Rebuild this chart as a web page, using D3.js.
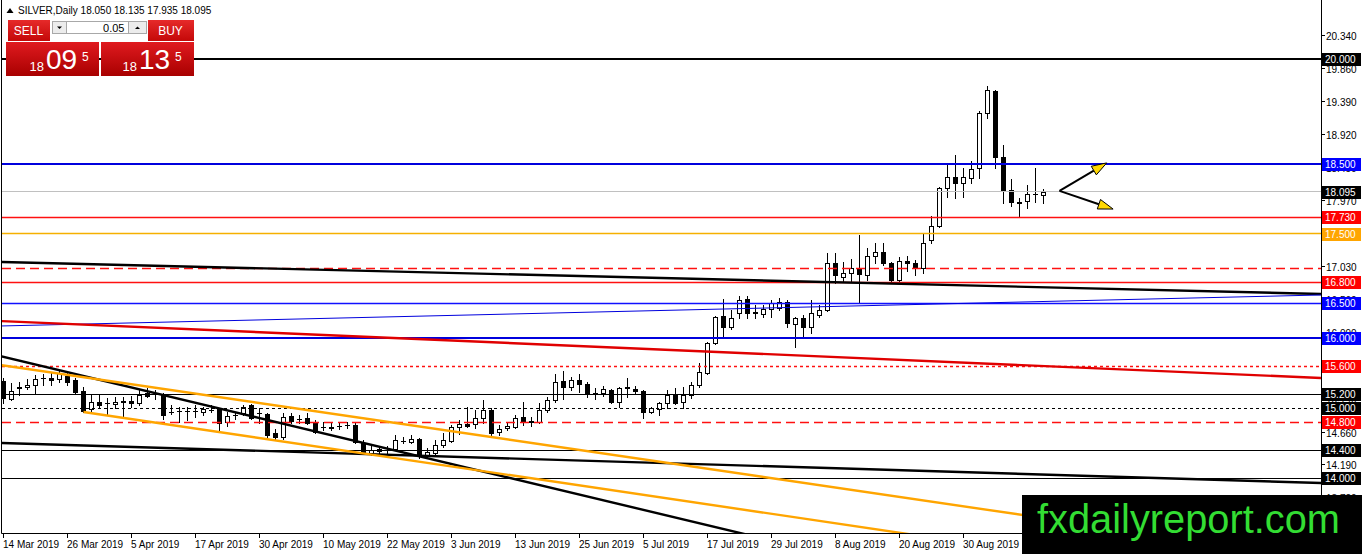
<!DOCTYPE html>
<html>
<head>
<meta charset="utf-8">
<script src="https://cdn.jsdelivr.net/npm/d3@7"></script>
<style>
  body { margin: 0; background: #fff; }
  svg { display: block; font-family: "Liberation Sans", Arial, sans-serif; }
</style>
</head>
<body>
<div id="chart"></div>
<script>
// ---- data ----
const symbol = "SILVER,Daily";
const dateLabels = ["14 Mar 2019", "26 Mar 2019", "5 Apr 2019", "17 Apr 2019", "30 Apr 2019", "10 May 2019",
  "22 May 2019", "3 Jun 2019", "13 Jun 2019", "25 Jun 2019", "5 Jul 2019", "17 Jul 2019", "29 Jul 2019",
  "8 Aug 2019", "20 Aug 2019", "30 Aug 2019"];
const dateBars = [0, 8, 16, 24, 32, 40, 48, 56, 64, 72, 80, 88, 96, 104, 112, 120];

const open = [
  15.39, 15.13, 15.29, 15.31, 15.33, 15.43, 15.43, 15.42, 15.46, 15.41,
  15.25, 14.99, 15.09, 15.08, 15.06, 15.09, 15.11, 15.08, 15.22, 15.21,
  15.19, 14.95, 14.96, 14.96, 14.96, 14.95, 14.98, 14.99, 14.81, 14.91,
  14.93, 15.05, 14.93, 14.92, 14.65, 14.59, 14.89, 14.85, 14.86, 14.81,
  14.73, 14.73, 14.75, 14.76, 14.76, 14.51, 14.36, 14.39, 14.41, 14.42,
  14.53, 14.52, 14.56, 14.33, 14.36, 14.48, 14.53, 14.73, 14.78, 14.78,
  14.86, 14.98, 14.66, 14.72, 14.73, 14.88, 14.82, 14.81, 14.98, 15.12,
  15.39, 15.31, 15.41, 15.35, 15.22, 15.22, 15.26, 15.09, 15.29, 15.28,
  15.25, 14.95, 14.99, 15.08, 15.21, 15.09, 15.19, 15.33, 15.51, 15.93,
  16.32, 16.16, 16.36, 16.56, 16.38, 16.35, 16.42, 16.44, 16.52, 16.21,
  16.29, 16.16, 16.34, 16.41, 17.08, 16.88, 16.94, 17.01, 16.91, 17.18,
  17.24, 17.08, 16.84, 17.11, 17.08, 17.01, 17.41, 17.61, 18.15, 18.31,
  18.22, 18.29, 18.44, 19.22, 19.54, 18.59, 18.12, 17.95, 17.97, 18.07,
  18.050];
const high = [
  15.43, 15.36, 15.38, 15.42, 15.48, 15.49, 15.51, 15.55, 15.52, 15.43,
  15.31, 15.19, 15.19, 15.15, 15.16, 15.16, 15.18, 15.26, 15.29, 15.26,
  15.22, 15.05, 15.02, 15.02, 15.05, 15.02, 15.05, 15.00, 14.95, 14.93,
  15.05, 15.06, 15.00, 14.93, 14.71, 14.93, 14.93, 14.91, 14.93, 14.83,
  14.81, 14.81, 14.81, 14.81, 14.79, 14.55, 14.46, 14.45, 14.46, 14.62,
  14.59, 14.62, 14.58, 14.43, 14.55, 14.65, 14.76, 14.83, 15.02, 14.98,
  15.12, 15.00, 14.76, 14.79, 14.91, 15.09, 14.88, 15.08, 15.16, 15.49,
  15.53, 15.45, 15.49, 15.38, 15.29, 15.32, 15.28, 15.31, 15.43, 15.32,
  15.26, 15.02, 15.09, 15.26, 15.29, 15.31, 15.38, 15.65, 15.95, 16.32,
  16.56, 16.41, 16.61, 16.61, 16.48, 16.48, 16.55, 16.58, 16.55, 16.31,
  16.34, 16.55, 16.48, 17.22, 17.22, 17.09, 17.14, 17.48, 17.29, 17.36,
  17.36, 17.09, 17.17, 17.18, 17.12, 17.49, 17.75, 18.17, 18.48, 18.62,
  18.44, 18.54, 19.25, 19.61, 19.55, 18.77, 18.28, 18.01, 18.19, 18.44,
  18.135];
const low = [
  15.08, 15.12, 15.19, 15.28, 15.22, 15.33, 15.33, 15.38, 15.33, 15.22,
  14.95, 14.95, 15.02, 14.91, 15.01, 14.88, 15.02, 15.05, 15.16, 15.13,
  14.85, 14.92, 14.81, 14.83, 14.88, 14.91, 14.95, 14.69, 14.75, 14.84,
  14.91, 14.84, 14.79, 14.58, 14.56, 14.56, 14.79, 14.79, 14.78, 14.65,
  14.69, 14.69, 14.71, 14.72, 14.51, 14.36, 14.33, 14.35, 14.36, 14.41,
  14.50, 14.50, 14.29, 14.30, 14.35, 14.45, 14.52, 14.63, 14.73, 14.72,
  14.79, 14.62, 14.62, 14.69, 14.72, 14.76, 14.75, 14.79, 14.95, 15.09,
  15.13, 15.26, 15.23, 15.16, 15.13, 15.18, 15.08, 15.02, 15.16, 15.22,
  14.86, 14.93, 14.91, 15.01, 15.06, 15.01, 15.15, 15.31, 15.49, 15.92,
  16.02, 16.14, 16.29, 16.29, 16.29, 16.31, 16.31, 16.41, 16.16, 15.88,
  16.02, 16.08, 16.31, 16.39, 16.79, 16.81, 16.81, 16.51, 16.84, 17.08,
  17.05, 16.81, 16.81, 16.97, 16.91, 16.94, 17.37, 17.59, 18.02, 18.01,
  18.02, 18.22, 18.29, 19.15, 18.44, 17.94, 17.89, 17.74, 17.87, 17.95,
  17.935];
const close = [
  15.15, 15.25, 15.31, 15.33, 15.42, 15.44, 15.41, 15.51, 15.38, 15.23,
  14.96, 15.09, 15.05, 15.07, 15.09, 15.10, 15.08, 15.19, 15.18, 15.20,
  14.91, 14.95, 14.96, 14.96, 14.96, 14.99, 14.97, 14.79, 14.89, 14.90,
  15.02, 14.86, 14.93, 14.62, 14.59, 14.88, 14.82, 14.85, 14.79, 14.66,
  14.73, 14.72, 14.75, 14.76, 14.52, 14.38, 14.41, 14.42, 14.40, 14.55,
  14.53, 14.56, 14.33, 14.38, 14.48, 14.55, 14.73, 14.78, 14.75, 14.86,
  14.98, 14.65, 14.71, 14.75, 14.86, 14.82, 14.81, 14.98, 15.12, 15.38,
  15.31, 15.41, 15.35, 15.22, 15.21, 15.28, 15.09, 15.29, 15.30, 15.25,
  14.95, 15.01, 15.08, 15.19, 15.08, 15.19, 15.33, 15.52, 15.93, 16.31,
  16.16, 16.29, 16.55, 16.36, 16.36, 16.42, 16.51, 16.52, 16.22, 16.29,
  16.16, 16.36, 16.41, 17.08, 16.91, 16.94, 17.01, 16.92, 17.18, 17.24,
  17.08, 16.84, 17.11, 17.08, 17.02, 17.37, 17.61, 18.15, 18.31, 18.22,
  18.31, 18.42, 19.22, 19.55, 18.59, 18.11, 17.95, 17.94, 18.07, 18.06,
  18.095];

const bid = 18.095;
const ask = 18.135;
const lotSize = "0.05";

// price axis tick labels
const priceTicks = [20.34, 19.86, 19.39, 18.92, 18.45, 17.97, 17.50, 17.03, 16.56, 16.09, 15.62, 15.14, 14.66, 14.19, 13.72];

// horizontal levels and their kind
const levelPrices = [20.0, 18.5, 18.095, 17.73, 17.5, 17.0, 16.8, 16.5, 16.0, 15.6, 15.2, 15.0, 14.8, 14.4, 14.0];
const levelKinds  = ["blackBold", "blueBold", "bid", "red", "gold", "redDash", "red", "blue", "blueBold",
                     "redDot", "black", "blackDot", "redDash", "black", "black"];
const levelLabeled = [true, true, true, true, true, false, true, true, true, true, true, true, true, true, true];

// trend lines: two anchors [bar, price]
const trendNames = ["resistance", "blueRise", "redFall", "blackFall", "blackLow", "orangeTop", "orangeBottom"];
const trendFrom  = [[0, 17.091], [0, 16.178], [0, 16.246], [0, 15.736], [0, 14.502], [0, 15.612], [10, 14.947]];
const trendTo    = [[160, 16.648], [160, 16.608], [160, 15.456], [80, 13.546], [160, 13.947], [120, 13.597], [110, 13.253]];
const trendKinds = ["black", "blueThin", "red", "black", "black", "orange", "orange"];
const trendStartAtAnchor = [false, false, false, false, false, false, true];

// annotation arrows [bar, price]
const arrowStart = [132, 18.11];
const arrowTips = [[137.9, 18.51], [138.7, 17.85]];

// ---- styles ----
const levelStyle = {
  blackBold: {color: "#000000", width: 2, label: "#000000"},
  blueBold:  {color: "#0000dd", width: 2, label: "#0000ff"},
  bid:       {color: "#c0c0c0", width: 1, label: "#000000"},
  red:       {color: "#ff1010", width: 1.4, label: "#ff0000"},
  gold:      {color: "#f5b000", width: 1.4, label: "#ffa500"},
  redDash:   {color: "#ff1010", width: 1.4, dash: "9,5", label: "#ff0000"},
  blue:      {color: "#1010ff", width: 1.4, label: "#0000ff"},
  redDot:    {color: "#ff1010", width: 1.4, dash: "3,3", label: "#ff0000"},
  black:     {color: "#000000", width: 1, label: "#000000"},
  blackDot:  {color: "#000000", width: 1, dash: "3,3", label: "#000000"}
};
const trendStyle = {
  black:    {color: "#000000", width: 2.4},
  blueThin: {color: "#0000dd", width: 1},
  red:      {color: "#e00000", width: 2.4},
  orange:   {color: "#ffa500", width: 2.4}
};

const width = 1362, height = 554;
const plot = {left: 2, right: 1321, top: 0, bottom: 533};

const x = d3.scaleLinear().domain([0, 130]).range([3.5, 1043.5]);
const y = d3.scaleLinear().domain([20.34, 13.72]).range([35, 35 + 6.62 * 69.9]);

const crisp = (v, w) => (Math.round(w) % 2 === 1 ? Math.round(v - 0.5) + 0.5 : Math.round(v));

const svg = d3.select("#chart").append("svg")
  .attr("width", width)
  .attr("height", height)
  .attr("viewBox", [0, 0, width, height]);

const defs = svg.append("defs");
defs.append("clipPath").attr("id", "plotClip")
  .append("rect")
  .attr("x", plot.left).attr("y", plot.top)
  .attr("width", plot.right - plot.left).attr("height", plot.bottom - plot.top);

function gradient(id, top, bottom) {
  const g = defs.append("linearGradient").attr("id", id).attr("x1", 0).attr("y1", 0).attr("x2", 0).attr("y2", 1);
  g.append("stop").attr("offset", 0).attr("stop-color", top);
  g.append("stop").attr("offset", 1).attr("stop-color", bottom);
}
gradient("redBtn", "#e62a2a", "#c40808");
gradient("redBig", "#e01a1f", "#a80000");

const gPlot = svg.append("g").attr("clip-path", "url(#plotClip)");

// candles
const bars = d3.range(open.length).map(i => ({i, o: open[i], h: high[i], l: low[i], c: close[i]}));
const gCandles = gPlot.append("g");
bars.forEach(d => {
  const cx = crisp(x(d.i), 1);
  gCandles.append("line")
    .attr("x1", cx).attr("x2", cx)
    .attr("y1", Math.round(y(d.h))).attr("y2", Math.round(y(d.l)) + 1)
    .attr("stroke", "#000").attr("stroke-width", 1);
  const yTop = Math.round(y(Math.max(d.o, d.c)));
  const yBot = Math.round(y(Math.min(d.o, d.c)));
  if (yBot - yTop < 1) {
    gCandles.append("line")
      .attr("x1", cx - 2.5).attr("x2", cx + 2.5)
      .attr("y1", yTop + 0.5).attr("y2", yTop + 0.5)
      .attr("stroke", "#000").attr("stroke-width", 1);
  } else if (d.c > d.o) {
    gCandles.append("rect")
      .attr("x", cx - 2).attr("width", 4)
      .attr("y", yTop + 0.5).attr("height", yBot - yTop)
      .attr("fill", "#fff").attr("stroke", "#000").attr("stroke-width", 1);
  } else {
    gCandles.append("rect")
      .attr("x", cx - 2.5).attr("width", 5)
      .attr("y", yTop).attr("height", yBot - yTop + 1)
      .attr("fill", "#000");
  }
});

// horizontal levels
levelPrices.forEach((p, i) => {
  const s = levelStyle[levelKinds[i]];
  const yy = crisp(y(p), s.width);
  gPlot.append("line")
    .attr("x1", plot.left).attr("x2", plot.right)
    .attr("y1", yy).attr("y2", yy)
    .attr("stroke", s.color).attr("stroke-width", s.width)
    .attr("stroke-dasharray", s.dash || null);
});

// trend lines
trendNames.forEach((name, i) => {
  const s = trendStyle[trendKinds[i]];
  const [b0, p0] = trendFrom[i], [b1, p1] = trendTo[i];
  const slope = (p1 - p0) / (b1 - b0);
  const bStart = trendStartAtAnchor[i] ? b0 : x.invert(plot.left - 5);
  const bEnd = x.invert(plot.right + 5);
  gPlot.append("line")
    .attr("class", name)
    .attr("x1", x(bStart)).attr("y1", y(p0 + slope * (bStart - b0)))
    .attr("x2", x(bEnd)).attr("y2", y(p0 + slope * (bEnd - b0)))
    .attr("stroke", s.color).attr("stroke-width", s.width);
});

// arrows
arrowTips.forEach(t => {
  const sx = x(arrowStart[0]), sy = y(arrowStart[1]);
  const tx = x(t[0]), ty = y(t[1]);
  const ang = Math.atan2(ty - sy, tx - sx);
  const len = 15, half = 5;
  const bx = tx - len * Math.cos(ang), by = ty - len * Math.sin(ang);
  gPlot.append("line")
    .attr("x1", sx).attr("y1", sy).attr("x2", bx).attr("y2", by)
    .attr("stroke", "#000").attr("stroke-width", 2);
  const pts = [[tx, ty],
    [bx + half * Math.sin(ang), by - half * Math.cos(ang)],
    [bx - half * Math.sin(ang), by + half * Math.cos(ang)]];
  gPlot.append("polygon")
    .attr("points", pts.map(p => p.join(",")).join(" "))
    .attr("fill", "#ffd700").attr("stroke", "#000").attr("stroke-width", 1);
});

// frame: left border, bottom axis, right axis
svg.append("line").attr("x1", 1.5).attr("x2", 1.5).attr("y1", 0).attr("y2", plot.bottom + 0.5)
  .attr("stroke", "#000");
svg.append("line").attr("x1", 1.5).attr("x2", plot.right + 0.5).attr("y1", plot.bottom + 0.5).attr("y2", plot.bottom + 0.5)
  .attr("stroke", "#000");
svg.append("line").attr("x1", plot.right + 0.5).attr("x2", plot.right + 0.5).attr("y1", 0).attr("y2", height)
  .attr("stroke", "#000");

// date axis
const gDates = svg.append("g").style("font-size", "10px");
dateBars.forEach((b, i) => {
  const cx = crisp(x(b), 1);
  gDates.append("line").attr("x1", cx).attr("x2", cx)
    .attr("y1", plot.bottom).attr("y2", plot.bottom + 5).attr("stroke", "#000");
  gDates.append("text").attr("x", cx - 0.5).attr("y", 547.5)
    .attr("fill", "#000").text(dateLabels[i]);
});

// price axis ticks
const gPrice = svg.append("g").style("font-size", "10px");
priceTicks.forEach(p => {
  const yy = crisp(y(p), 1);
  gPrice.append("line").attr("x1", plot.right).attr("x2", plot.right + 4)
    .attr("y1", yy).attr("y2", yy).attr("stroke", "#000");
  gPrice.append("text").attr("x", 1326).attr("y", yy + 4)
    .attr("fill", "#000").text(p.toFixed(3));
});

// level labels
levelPrices.forEach((p, i) => {
  if (!levelLabeled[i]) return;
  const s = levelStyle[levelKinds[i]];
  const yy = Math.round(y(p));
  gPrice.append("rect").attr("x", 1322).attr("y", yy - 6).attr("width", 39).attr("height", 13)
    .attr("fill", s.label);
  gPrice.append("text").attr("x", 1325).attr("y", yy + 4)
    .attr("fill", "#fff").text(p.toFixed(3));
});

// watermark
const gLogo = svg.append("g");
gLogo.append("rect").attr("x", 1022).attr("y", 495).attr("width", 340).attr("height", 59).attr("fill", "#000");
gLogo.append("text").attr("x", 1037).attr("y", 533)
  .attr("fill", "#33dd33").style("font-size", "40px")
  .attr("textLength", 303).attr("lengthAdjust", "spacingAndGlyphs")
  .text("fxdailyreport.com");

// header
const last = bars[bars.length - 1];
svg.append("path").attr("d", "M6.5,13 L10,8 L13.5,13 Z").attr("fill", "#000");
svg.append("text").attr("x", 18).attr("y", 14).style("font-size", "10px").attr("fill", "#000")
  .text(`${symbol}  ${last.o.toFixed(3)} ${last.h.toFixed(3)} ${last.l.toFixed(3)} ${last.c.toFixed(3)}`);

// one-click trading panel
const gPanel = svg.append("g");
gPanel.append("rect").attr("x", 8).attr("y", 20).attr("width", 42).attr("height", 21).attr("fill", "url(#redBtn)");
gPanel.append("text").attr("x", 28.5).attr("y", 35).attr("text-anchor", "middle")
  .attr("fill", "#fff").style("font-size", "12px").text("SELL");
gPanel.append("rect").attr("x", 148).attr("y", 20).attr("width", 46).attr("height", 21).attr("fill", "url(#redBtn)");
gPanel.append("text").attr("x", 170.5).attr("y", 35).attr("text-anchor", "middle")
  .attr("fill", "#fff").style("font-size", "12px").text("BUY");
gPanel.append("rect").attr("x", 52.5).attr("y", 21.5).attr("width", 14).attr("height", 12)
  .attr("fill", "#ececec").attr("stroke", "#a8a8a8");
gPanel.append("path").attr("d", "M57,26.5 L62,26.5 L59.5,29 Z").attr("fill", "#000");
gPanel.append("rect").attr("x", 66.5).attr("y", 21.5).attr("width", 62).attr("height", 12)
  .attr("fill", "#fff").attr("stroke", "#a8a8a8");
gPanel.append("text").attr("x", 124.5).attr("y", 31.5).attr("text-anchor", "end")
  .attr("fill", "#000").style("font-size", "11px").text(lotSize);
gPanel.append("rect").attr("x", 128.5).attr("y", 21.5).attr("width", 18).attr("height", 12)
  .attr("fill", "#ececec").attr("stroke", "#a8a8a8");
gPanel.append("path").attr("d", "M135,29 L140,29 L137.5,26.5 Z").attr("fill", "#000");

function quote(px, value, bigX) {
  const s = value.toFixed(3);
  gPanel.append("rect").attr("x", px).attr("y", 42).attr("width", 93).attr("height", 34).attr("fill", "url(#redBig)");
  gPanel.append("text").attr("x", bigX - 2).attr("y", 70.5).attr("text-anchor", "end")
    .attr("fill", "#fff").style("font-size", "13px").text(s.slice(0, 2));
  gPanel.append("text").attr("x", bigX).attr("y", 69)
    .attr("fill", "#fff").style("font-size", "28px").text(s.slice(3, 5));
  gPanel.append("text").attr("x", bigX + 36).attr("y", 61)
    .attr("fill", "#fff").style("font-size", "12px").text(s.slice(5));
}
quote(6, bid, 46);
quote(101, ask, 139);
</script>
</body>
</html>
